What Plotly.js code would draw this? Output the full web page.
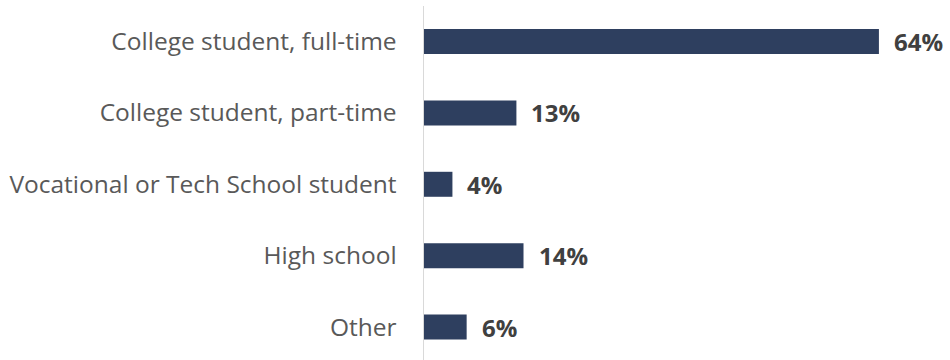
<!DOCTYPE html>
<html>
<head>
<meta charset="utf-8">
<script src="https://cdn.plot.ly/plotly-3.0.1.min.js"></script>
<style>html,body{margin:0;padding:0;background:#fff;}#chart{width:950px;height:360px;}</style>
</head>
<body>
<div id="chart"></div>
<script>
const categories = ["College student, full-time", "College student, part-time", "Vocational or Tech School student", "High school", "Other"];
const values = [64, 13, 4, 14, 6];
const valueLabels = ["64%", "13%", "4%", "14%", "6%"];

const labelFont = "Open Sans, sans-serif";

const trace = {
  type: "bar",
  orientation: "h",
  y: categories,
  x: values,
  marker: {color: "#2E3F5F", line: {width: 0}},
  hoverinfo: "none",
  width: 0.35
};

const annotations = categories.map((c, i) => ({
  x: values[i], y: c, xref: "x", yref: "y",
  text: "<b>" + valueLabels[i] + "</b>",
  showarrow: false, xanchor: "left", yanchor: "middle", xshift: 13,
  font: {family: labelFont, size: 24, color: "#404040"}
}));

const layout = {
  width: 950, height: 360,
  margin: {l: 424, r: 0, t: 6, b: 0},
  paper_bgcolor: "#fff", plot_bgcolor: "#fff",
  showlegend: false,
  xaxis: {range: [0, 74], visible: false, fixedrange: true},
  yaxis: {
    type: "category",
    range: [4.461, -0.497],
    showline: true, linecolor: "#D9D9D9", linewidth: 1.5,
    showgrid: false, zeroline: false, ticks: "",
    ticklabelstandoff: 21,
    tickfont: {family: labelFont, size: 24.5, color: "#595959"}
  },
  annotations: annotations
};

Plotly.newPlot("chart", [trace], layout, {staticPlot: true, displayModeBar: false});
</script>
</body>
</html>
